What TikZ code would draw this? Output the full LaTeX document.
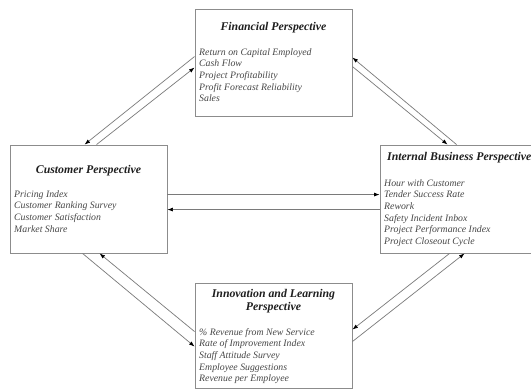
\documentclass[tikz,border=0pt]{standalone}
\usepackage{fontspec}
\setmainfont{Liberation Serif}
\usetikzlibrary{arrows.meta}
\definecolor{boxgray}{HTML}{8C8C8C}
\definecolor{linegray}{HTML}{7A7A7A}
\begin{document}
\begin{tikzpicture}[x=1pt,y=-1pt,
  box/.style={draw=boxgray, line width=0.9pt, minimum width=157pt, minimum height=107pt, inner sep=0pt},
  ttl/.style={font=\fontsize{11.8}{13}\selectfont\bfseries\itshape, text=black!88, anchor=base, inner sep=0pt},
  itm/.style={font=\fontsize{9.8}{11.7}\selectfont\itshape, text=black!72, anchor=base west, inner sep=0pt},
  con/.style={draw=linegray, line width=0.7pt, -{Latex[length=5.5pt,width=4pt,color=black]}}]
\useasboundingbox (0,0) rectangle (531,391);
\clip (0,0) rectangle (531,391);
\fill[white] (0,0) rectangle (531,391);
% boxes
\node[box] (fin) at (273.5,62.5) {};
\node[box, minimum height=108pt] (cus) at (88.5,199) {};
\node[box, minimum width=160pt, minimum height=108pt] (int) at (460,199) {};
\node[box, minimum height=105pt] (inn) at (273.5,335.5) {};
% titles
\node[ttl] (fint) at (273.5,30.5) {Financial Perspective};
\node[ttl] (cust) at (88.5,173) {Customer Perspective};
\node[ttl, anchor=base west] (intt) at (387,160) {Internal Business Perspective};
\node[ttl] (innt1) at (273.5,297) {Innovation and Learning};
\node[ttl] (innt2) at (273.5,310) {Perspective};
% items
\foreach \t [count=\i] in {Return on Capital Employed, Cash Flow, Project Profitability, Profit Forecast Reliability, Sales}
  \node[itm] (fi\i) at (199,{55+11.7*(\i-1)}) {\t};
\foreach \t [count=\i] in {Pricing Index, Customer Ranking Survey, Customer Satisfaction, Market Share}
  \node[itm] (ci\i) at (14,{197+11.7*(\i-1)}) {\t};
\foreach \t [count=\i] in {Hour with Customer, Tender Success Rate, Rework, Safety Incident Inbox, Project Performance Index, Project Closeout Cycle}
  \node[itm] (ii\i) at (384,{186+11.7*(\i-1)}) {\t};
\foreach \t [count=\i] in {\% Revenue from New Service, Rate of Improvement Index, Staff Attitude Survey, Employee Suggestions, Revenue per Employee}
  \node[itm] (ni\i) at (199,{335+11.7*(\i-1)}) {\t};
% connectors customer - financial
\draw[con] ([yshift=-48pt]fin.north west) -- ([xshift=75pt]cus.north west);
\draw[con] ([xshift=87pt]cus.north west) -- ([yshift=-59pt]fin.north west);
% financial - internal
\draw[con] ([xshift=77pt]int.north west) -- ([yshift=-49pt]fin.north east);
\draw[con] ([yshift=-58pt]fin.north east) -- ([xshift=68pt]int.north west);
% customer - internal
\draw[con] ([yshift=-50pt]cus.north east) -- ([yshift=-50pt]int.north west);
\draw[con] ([yshift=-65pt]int.north west) -- ([yshift=-65pt]cus.north east);
% customer - innovation
\draw[con] ([yshift=-49pt]inn.north west) -- ([xshift=90pt]cus.south west);
\draw[con] ([xshift=73pt]cus.south west) -- ([yshift=-64pt]inn.north west);
% innovation - internal
\draw[con] ([xshift=70pt]int.south west) -- ([yshift=-47pt]inn.north east);
\draw[con] ([yshift=-59pt]inn.north east) -- ([xshift=85pt]int.south west);
\end{tikzpicture}
\end{document}
